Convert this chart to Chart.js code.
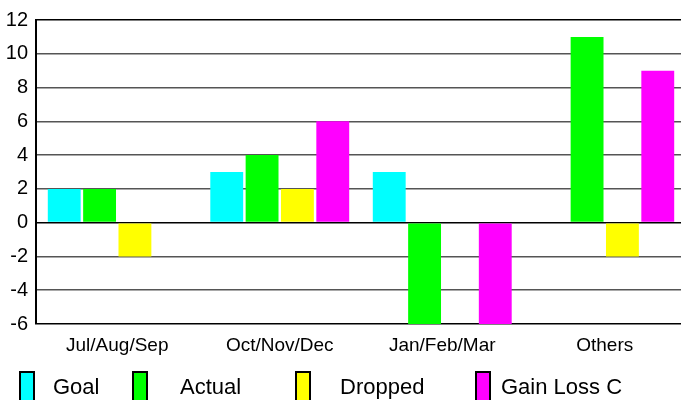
<!DOCTYPE html>
<html>
<head>
<meta charset="utf-8">
<script src="https://cdn.jsdelivr.net/npm/chart.js@4/dist/chart.umd.min.js"></script>
<style>
    html, body { margin: 0; padding: 0; overflow: hidden; background: #fff; }
    #wrap { width: 686px; height: 400px; }
</style>
</head>
<body>
<div id="wrap"><canvas id="chart"></canvas></div>
<script>
// 数据
const categories = ['Jul/Aug/Sep', 'Oct/Nov/Dec', 'Jan/Feb/Mar', 'Others'];
const goal = [2, 3, 3, 0];
const actual = [2, 4, -6, 11];
const dropped = [-2, 2, 0, -2];
const gainLoss = [0, 6, -6, 9];
const seriesNames = ['Goal', 'Actual', 'Dropped', 'Gain Loss C'];
const seriesColors = ['#00FFFF', '#00FF00', '#FFFF00', '#FF00FF'];
const yMin = -6, yMax = 12, yStep = 2;

const FONT = '"Liberation Sans", Arial, sans-serif';

// 自定义图例 (原图图例间距不均匀)
const legendPlugin = {
    id: 'customLegend',
    afterDraw(chart) {
        const ctx = chart.ctx;
        const boxX = [20, 133, 296, 476];
        const textX = [53, 180, 340, 501];
        ctx.save();
        ctx.font = '22px ' + FONT;
        ctx.textBaseline = 'alphabetic';
        seriesNames.forEach((name, i) => {
            ctx.fillStyle = seriesColors[i];
            ctx.fillRect(boxX[i], 372, 14, 34);
            ctx.strokeStyle = '#000';
            ctx.lineWidth = 2;
            ctx.strokeRect(boxX[i], 372, 14, 34);
            ctx.fillStyle = '#000';
            ctx.fillText(name, textX[i], 394);
        });
        ctx.restore();
    }
};

const datasets = [goal, actual, dropped, gainLoss].map((values, i) => ({
    label: seriesNames[i],
    data: values,
    backgroundColor: seriesColors[i],
    borderWidth: 0,
    barPercentage: 0.93,
    categoryPercentage: 0.87
}));

new Chart(document.getElementById('chart'), {
    type: 'bar',
    data: { labels: categories, datasets: datasets },
    options: {
        responsive: true,
        maintainAspectRatio: false,
        animation: false,
        layout: { padding: { top: 16, left: 0, right: 0, bottom: 0 } },
        plugins: {
            legend: { display: false },
            tooltip: { enabled: false }
        },
        scales: {
            x: {
                grid: { display: false },
                border: { display: false },
                ticks: {
                    color: '#000',
                    font: { family: FONT, size: 19 },
                    padding: 2,
                    maxRotation: 0
                },
                afterFit(scale) { scale.height = 76; }
            },
            y: {
                min: yMin,
                max: yMax,
                ticks: {
                    stepSize: yStep,
                    color: '#000',
                    font: { family: FONT, size: 20 },
                    padding: 8
                },
                border: { display: true, color: '#000', width: 2 },
                grid: {
                    drawTicks: false,
                    color: (c) => (c.tick && (c.tick.value === 0 || c.tick.value === yMax || c.tick.value === yMin)) ? '#000' : '#555',
                    lineWidth: 1.6
                },
                afterFit(scale) { scale.width = 36; }
            }
        }
    },
    plugins: [legendPlugin]
});
</script>
</body>
</html>
